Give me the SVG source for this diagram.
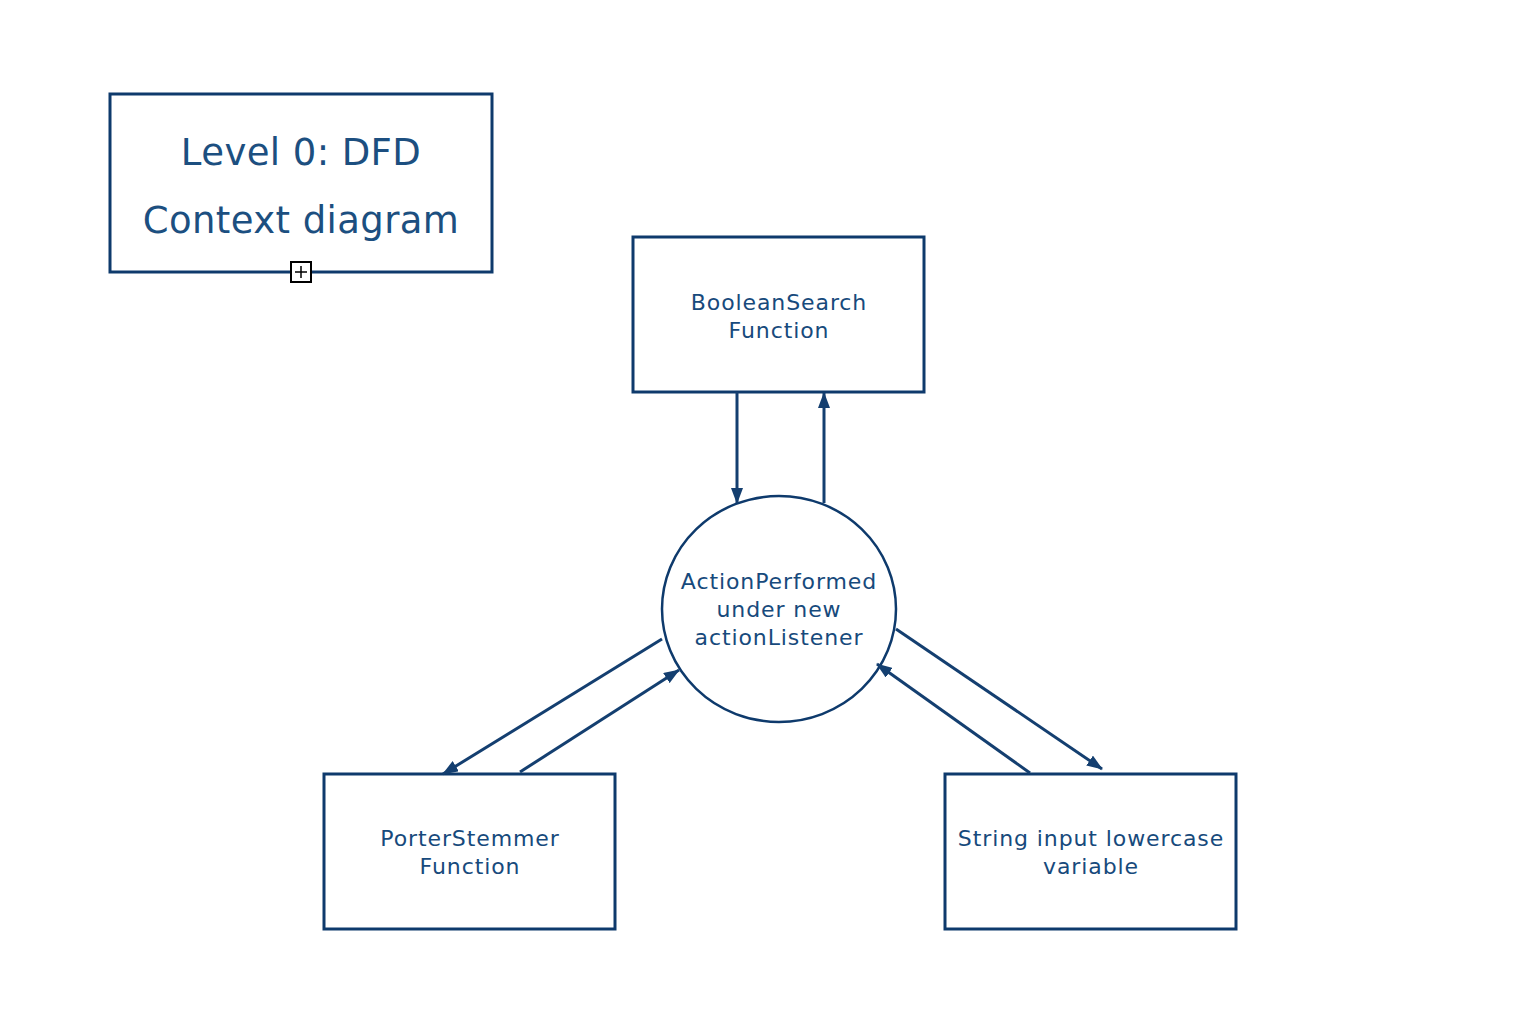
<svg xmlns="http://www.w3.org/2000/svg" width="1540" height="1036" viewBox="0 0 1540 1036">
<style>
.box{fill:#fff;stroke:#0e3a6c;stroke-width:3}
.t{font-family:"DejaVu Sans",Verdana,sans-serif;font-size:22px;letter-spacing:0.9px;fill:#174a7c;text-anchor:middle}
.tt{font-family:"DejaVu Sans",Verdana,sans-serif;font-size:37px;letter-spacing:0.4px;fill:#1c4f80;text-anchor:middle}
.c{fill:none;stroke:#143f70;stroke-width:3}
</style>
<defs>
<marker id="ah" viewBox="0 0 16 12" refX="15" refY="6" markerWidth="16" markerHeight="12" markerUnits="userSpaceOnUse" orient="auto">
<path d="M0,0 L16,6 L0,12 Z" fill="#143f70"/>
</marker>
</defs>
<rect width="1540" height="1036" fill="#fff"/>
<g id="title">
<rect class="box" x="110" y="94" width="382" height="178"/>
<text class="tt" x="301" y="165">Level 0: DFD</text>
<text class="tt" x="301" y="233">Context diagram</text>
<rect x="291" y="262" width="20" height="20" fill="#fff" stroke="#000" stroke-width="2"/>
<path d="M295,272 H307 M301,266 V278" stroke="#000" stroke-width="1.5"/>
</g>
<g id="boolean">
<rect class="box" x="633" y="237" width="291" height="155"/>
<text class="t" x="779" y="310">BooleanSearch</text>
<text class="t" x="779" y="338">Function</text>
</g>
<g id="action">
<ellipse cx="779" cy="609" rx="117" ry="113" fill="#fff" stroke="#0e3a6c" stroke-width="2.5"/>
<text class="t" x="779" y="589">ActionPerformed</text>
<text class="t" x="779" y="617">under new</text>
<text class="t" x="779" y="645">actionListener</text>
</g>
<g id="porter">
<rect class="box" x="324" y="774" width="291" height="155"/>
<text class="t" x="470" y="846">PorterStemmer</text>
<text class="t" x="470" y="874">Function</text>
</g>
<g id="string">
<rect class="box" x="945" y="774" width="291" height="155"/>
<text class="t" x="1091" y="846">String input lowercase</text>
<text class="t" x="1091" y="874">variable</text>
</g>
<g id="connectors">
<line class="c" x1="737" y1="392" x2="737" y2="503" marker-end="url(#ah)"/>
<line class="c" x1="824" y1="503" x2="824" y2="393" marker-end="url(#ah)"/>
<line class="c" x1="662" y1="639" x2="443" y2="774" marker-end="url(#ah)"/>
<line class="c" x1="520" y1="772" x2="679" y2="670" marker-end="url(#ah)"/>
<line class="c" x1="896" y1="629" x2="1102" y2="769" marker-end="url(#ah)"/>
<line class="c" x1="1030" y1="773" x2="877" y2="664" marker-end="url(#ah)"/>
</g>
</svg>
